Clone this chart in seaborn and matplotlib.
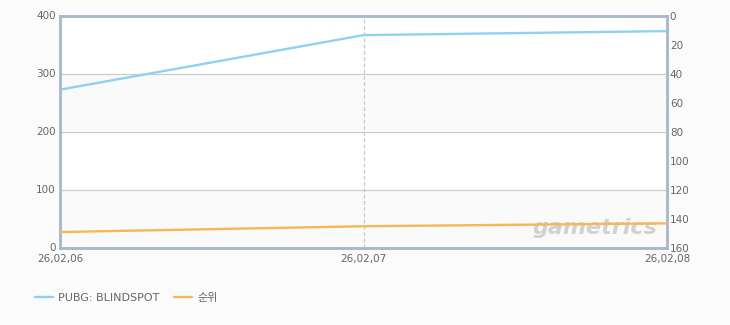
import matplotlib
matplotlib.use("Agg")
import matplotlib.pyplot as plt
import seaborn as sns
import pandas as pd

dates = ["26,02,06", "26,02,07", "26,02,08"]
players = [273, 367, 374]
rank = [149, 145, 143]
series_names = ["PUBG: BLINDSPOT", "순위"]
left_ticks = [0, 100, 200, 300, 400]
right_ticks = [0, 20, 40, 60, 80, 100, 120, 140, 160]

sns.set_theme(style="white")
plt.rcParams["font.family"] = ["DejaVu Sans", "Noto Sans CJK KR"]

BLUE = "#8fd1f2"
ORANGE = "#f6b756"
FRAME = "#a9b9cc"
TXT = "#666666"

df = pd.DataFrame({"x": range(len(dates)), "players": players, "rank": rank})

fig = plt.figure(figsize=(7.3, 3.25), dpi=100, facecolor="#fbfbfb")
ax = fig.add_axes([60/730, 1-248/325, (667-60)/730, (248-16)/325])
ax.set_facecolor("white")

# alternating bands
for lo, hi in [(0, 100), (200, 300)]:
    ax.axhspan(lo, hi, color="#fafafa", zorder=0, lw=0)
for yv in [100, 200, 300]:
    ax.axhline(yv, color="#cccccc", lw=0.9, zorder=1)
ax.axvline(1, color="#c8c8c8", lw=0.9, ls=(0, (3, 2)), zorder=1)

sns.lineplot(data=df, x="x", y="players", ax=ax, color=BLUE, lw=1.7, label=series_names[0], legend=False, zorder=3)
ax.set_xlim(0, 2)
ax.set_ylim(0, 400)
ax.set_yticks(left_ticks)
ax.set_xticks(range(len(dates)))
ax.set_xticklabels(dates)
ax.set_xlabel("")
ax.set_ylabel("")
ax.tick_params(axis="both", colors=TXT, labelsize=7.5, length=0, pad=3)
ax.tick_params(axis="x", pad=4)
for lab in ax.get_yticklabels():
    lab.set_verticalalignment("center")
for s in ax.spines.values():
    s.set_color(FRAME)
    s.set_linewidth(1.8)

ax2 = ax.twinx()
sns.lineplot(data=df, x="x", y="rank", ax=ax2, color=ORANGE, lw=1.7, label=series_names[1], legend=False, zorder=3)
ax2.set_ylim(160, 0)
ax2.set_yticks(right_ticks)
ax2.set_ylabel("")
ax2.tick_params(axis="y", colors=TXT, labelsize=7.5, length=0, pad=2)
for s in ax2.spines.values():
    s.set_color(FRAME)
    s.set_linewidth(1.8)
ax2.grid(False)

# watermark
ax.text(0.985, 0.045, "gametrics", transform=ax.transAxes, ha="right", va="bottom",
        fontsize=16, fontweight="bold", fontstyle="italic", color="#c4c4c4", alpha=0.75, zorder=2)

h1, l1 = ax.get_legend_handles_labels()
h2, l2 = ax2.get_legend_handles_labels()
fig.legend(h1 + h2, l1 + l2, loc="lower left", bbox_to_anchor=(25/730, 12/325), ncol=2,
           frameon=False, fontsize=8, labelcolor=TXT, handlelength=1.6, columnspacing=1.3,
           handletextpad=0.5)

fig.savefig("out.png", dpi=100, facecolor=fig.get_facecolor())
